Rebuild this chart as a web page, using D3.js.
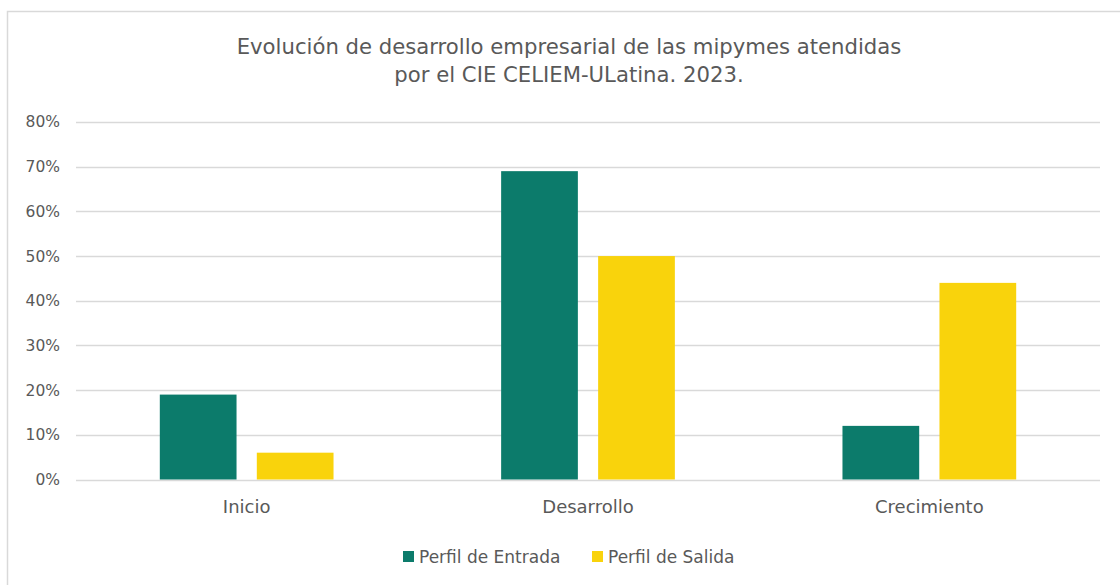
<!DOCTYPE html>
<html>
<head>
<meta charset="utf-8">
<script src="https://cdn.jsdelivr.net/npm/d3@7"></script>
<style>
  body { margin: 0; background: #fff; }
  svg { display: block; }
  text { font-family: "DejaVu Sans", sans-serif; fill: #595959; }
</style>
</head>
<body>
<svg id="chart" width="1120" height="585"></svg>
<script>
const categories = ["Inicio", "Desarrollo", "Crecimiento"];
const seriesNames = ["Perfil de Entrada", "Perfil de Salida"];
const entrada = [0.19, 0.69, 0.12];
const salida = [0.06, 0.50, 0.44];
const yTicks = [0, 0.1, 0.2, 0.3, 0.4, 0.5, 0.6, 0.7, 0.8];
const titleLines = ["Evolución de desarrollo empresarial de las mipymes atendidas", "por el CIE CELIEM-ULatina. 2023."];
const colors = ["#0C7B6B", "#F9D30C"];

(function () {
const data = categories.map((c, i) => ({ cat: c, values: [entrada[i], salida[i]] }));

const svg = d3.select("#chart");
const pLeft = 76, pRight = 1100, pTop = 122, pBottom = 479.5;

// chart border
svg.append("rect").attr("x", 7.5).attr("y", 11.5).attr("width", 1130).attr("height", 600)
  .attr("fill", "none").attr("stroke", "#d9d9d9").attr("stroke-width", 1.5);

const y = d3.scaleLinear().domain([0, 0.8]).range([pBottom, pTop]);
const x0 = d3.scaleBand().domain(categories).range([pLeft, pRight]).paddingInner(0).paddingOuter(0);
const x1 = d3.scaleBand().domain([0, 1]).range([0, x0.bandwidth()]).paddingInner(0.209).paddingOuter(0.864);

// gridlines
svg.append("g").selectAll("line").data(yTicks).join("line")
  .attr("x1", pLeft).attr("x2", pRight)
  .attr("y1", d => Math.round(y(d)) + 0.5).attr("y2", d => Math.round(y(d)) + 0.5)
  .attr("stroke", "#d9d9d9").attr("stroke-width", 1.5);

// y axis
const yAxis = d3.axisLeft(y).tickValues(yTicks).tickFormat(d3.format(".0%")).tickSize(0).tickPadding(16);
const yg = svg.append("g").attr("transform", `translate(${pLeft},0)`).call(yAxis)
  .attr("font-family", null).attr("font-size", null);
yg.select(".domain").remove();
yg.selectAll("text").style("font-size", "15.5px").attr("fill", "#595959");

// bars
const groups = svg.append("g").selectAll("g").data(data).join("g")
  .attr("transform", d => `translate(${x0(d.cat)},0)`);
groups.selectAll("rect").data(d => d.values.map((v, i) => ({ v, i }))).join("rect")
  .attr("x", d => x1(d.i)).attr("width", x1.bandwidth())
  .attr("y", d => y(d.v)).attr("height", d => y(0) - y(d.v))
  .attr("fill", d => colors[d.i]);

// x axis
const xAxis = d3.axisBottom(x0).tickSize(0).tickPadding(21);
const xg = svg.append("g").attr("transform", `translate(0,${pBottom})`).call(xAxis)
  .attr("font-family", null).attr("font-size", null);
xg.select(".domain").remove();
xg.selectAll("text").style("font-size", "18px").attr("fill", "#595959");

// title
svg.append("g").selectAll("text").data(titleLines).join("text")
  .attr("x", 569).attr("y", (d, i) => 54 + i * 28)
  .attr("text-anchor", "middle").style("font-size", "21.2px").text(d => d);

// legend
const legendX = [403, 592];
const lg = svg.append("g").selectAll("g").data(seriesNames).join("g")
  .attr("transform", (d, i) => `translate(${legendX[i]},551)`);
lg.append("rect").attr("width", 11).attr("height", 11).attr("fill", (d, i) => colors[i]);
lg.append("text").attr("x", 16).attr("y", 11.5).style("font-size", "17px").text(d => d);
})();
</script>
</body>
</html>
